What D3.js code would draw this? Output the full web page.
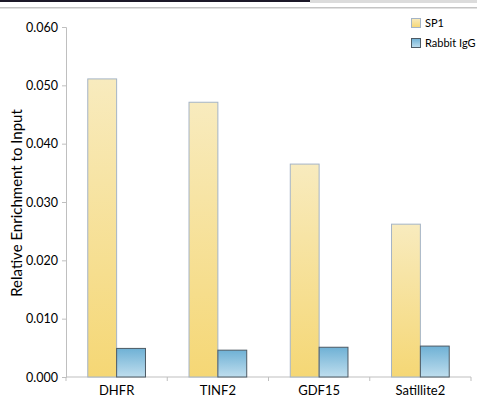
<!DOCTYPE html>
<html>
<head>
<meta charset="utf-8">
<title>Relative Enrichment</title>
<script src="https://cdn.jsdelivr.net/npm/d3@7"></script>
<style>
  body { margin: 0; background: #fff; }
  svg text { font-family: Lato, "Open Sans", sans-serif; fill: #000; }
</style>
</head>
<body>
<script>
var categories = ["DHFR", "TINF2", "GDF15", "Satillite2"];
var seriesNames = ["SP1", "Rabbit IgG"];
var sp1 = [0.0511, 0.0471, 0.0365, 0.0262];
var igg = [0.0049, 0.0046, 0.0051, 0.0053];
var yTicks = [0, 0.01, 0.02, 0.03, 0.04, 0.05, 0.06];

var W = 477, H = 402;
var margin = {top: 27, right: 6, bottom: 25, left: 66};
var width = W - margin.left - margin.right,
    height = H - margin.top - margin.bottom;

var svg = d3.select("body").append("svg")
    .attr("width", W).attr("height", H);

// window chrome strip at top
svg.append("rect").attr("x", 0).attr("y", 0).attr("width", 310).attr("height", 2).attr("fill", "#1c1828");
svg.append("rect").attr("x", 310).attr("y", 0).attr("width", 167).attr("height", 3).attr("fill", "#dcdcdc");
svg.append("rect").attr("x", 0).attr("y", 7).attr("width", W).attr("height", 1.5).attr("fill", "#c4c4c4");

var defs = svg.append("defs");
var g1 = defs.append("linearGradient").attr("id", "gSp1").attr("x1", 0).attr("y1", 0).attr("x2", 0).attr("y2", 1);
g1.append("stop").attr("offset", "0%").attr("stop-color", "#f8ebbe");
g1.append("stop").attr("offset", "100%").attr("stop-color", "#f5d775");
var g2 = defs.append("linearGradient").attr("id", "gIgg").attr("x1", 0).attr("y1", 0).attr("x2", 0).attr("y2", 1);
g2.append("stop").attr("offset", "0%").attr("stop-color", "#6fb1d5");
g2.append("stop").attr("offset", "100%").attr("stop-color", "#bfdeee");

var g = svg.append("g").attr("transform", "translate(" + margin.left + "," + margin.top + ")");

var x0 = d3.scaleBand().domain(categories).range([0, width]).paddingInner(0.43).paddingOuter(0.215);
var x1 = d3.scaleBand().domain(seriesNames).range([0, x0.bandwidth()]);
var y = d3.scaleLinear().domain([0, 0.06]).range([height, 0]);

// y axis
var yAxis = g.append("g").call(d3.axisLeft(y).tickValues(yTicks).tickFormat(d3.format(".3f")).tickSizeOuter(0).tickSize(4).tickPadding(4));
yAxis.select(".domain").attr("stroke", "#bfbfbf");
yAxis.selectAll(".tick line").attr("stroke", "#bfbfbf");
yAxis.selectAll("text").style("font-size", "12.5px");

// x axis with separator ticks
var step = width / categories.length;
var xAxis = g.append("g").attr("transform", "translate(0," + height + ")");
xAxis.append("line").attr("x1", 0).attr("x2", width).attr("stroke", "#bfbfbf");
xAxis.selectAll(".sep").data(d3.range(categories.length + 1)).enter().append("line")
    .attr("x1", function(d) { return d * step; }).attr("x2", function(d) { return d * step; })
    .attr("y1", 0).attr("y2", 4).attr("stroke", "#bfbfbf");
xAxis.selectAll(".lab").data(categories).enter().append("text")
    .attr("x", function(d) { return x0(d) + x0.bandwidth() / 2; })
    .attr("y", 18).attr("text-anchor", "middle").style("font-size", "13px")
    .text(function(d) { return d; });

// bars
g.selectAll(".sp1").data(sp1).enter().append("rect")
    .attr("x", function(d, i) { return x0(categories[i]) + x1("SP1"); })
    .attr("y", function(d) { return y(d); })
    .attr("width", x1.bandwidth())
    .attr("height", function(d) { return height - y(d); })
    .attr("fill", "url(#gSp1)").attr("stroke", "#a4b4c6").attr("stroke-width", 1);

g.selectAll(".igg").data(igg).enter().append("rect")
    .attr("x", function(d, i) { return x0(categories[i]) + x1("Rabbit IgG"); })
    .attr("y", function(d) { return y(d); })
    .attr("width", x1.bandwidth())
    .attr("height", function(d) { return height - y(d); })
    .attr("fill", "url(#gIgg)").attr("stroke", "#4d5a64").attr("stroke-width", 1);

// y label
svg.append("text").attr("transform", "translate(22," + (margin.top + height / 2 + 1) + ") rotate(-90)")
    .attr("text-anchor", "middle").style("font-size", "15px")
    .text("Relative Enrichment to Input");

// legend
var legend = svg.append("g").attr("transform", "translate(411,18)");
var fills = ["url(#gSp1)", "url(#gIgg)"];
var strokes = ["#a4b4c6", "#4d5a64"];
seriesNames.forEach(function(s, i) {
  var row = legend.append("g").attr("transform", "translate(0," + (i * 20) + ")");
  row.append("rect").attr("x", 0.5).attr("y", 0.5).attr("width", 9).attr("height", 9)
     .attr("fill", fills[i]).attr("stroke", strokes[i]);
  row.append("text").attr("x", 14).attr("y", 9).style("font-size", "11px").text(s);
});
</script>
</body>
</html>
